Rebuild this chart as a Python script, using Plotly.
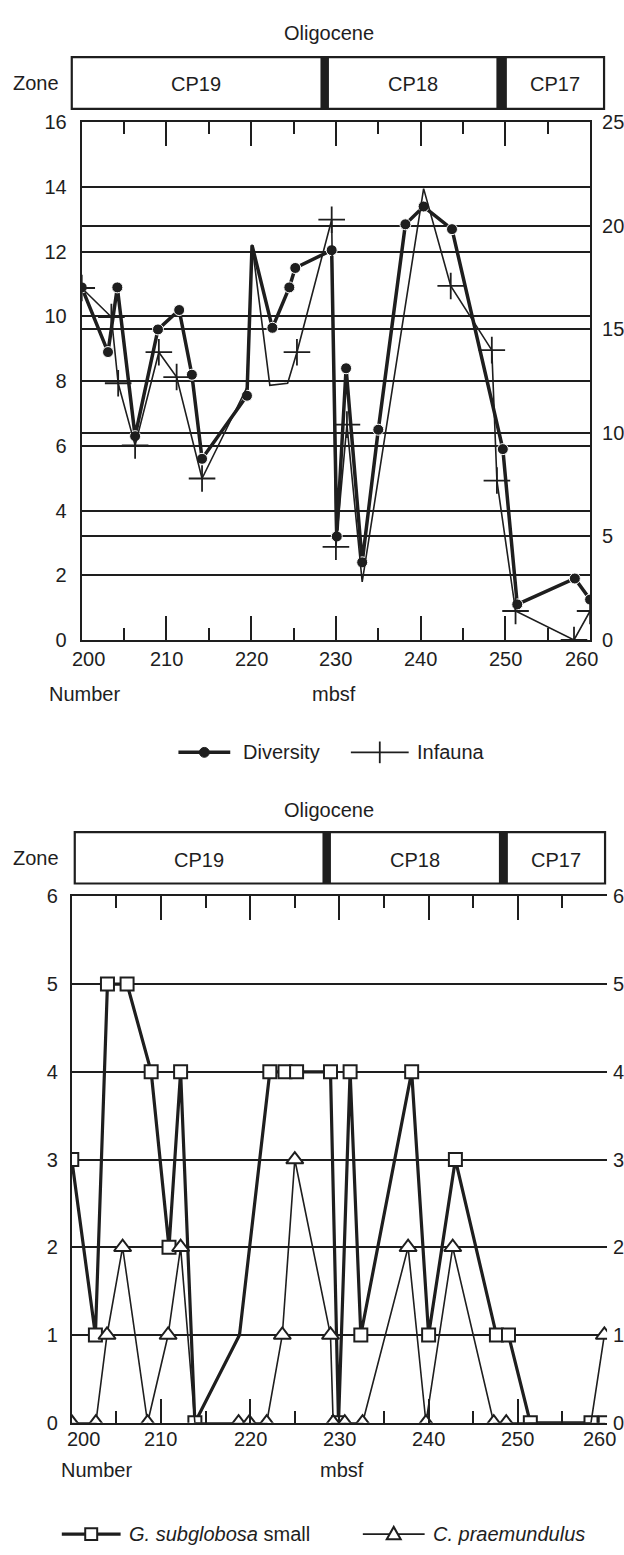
import plotly.graph_objects as go

W, H = 624, 1555
INK = "#1e1e1e"
FONT = "Liberation Sans, Arial, Helvetica, sans-serif"

# ---------------- data ----------------
# Upper panel: Diversity (left axis, number) and Infauna (right axis)
div_depth = [200.0, 203.1, 204.2, 206.3, 209.0, 211.5, 213.0, 214.2, 219.5, 220.1,
             222.5, 224.5, 225.2, 229.5, 230.1, 231.2, 233.1, 235.0, 238.2, 240.35,
             243.7, 249.7, 251.4, 258.2, 260.0]
diversity = [10.9, 8.9, 10.9, 6.3, 9.6, 10.2, 8.2, 5.6, 7.55, 12.2,
             9.65, 10.9, 11.5, 12.05, 3.2, 8.4, 2.4, 6.5, 12.85, 13.4,
             12.7, 5.9, 1.1, 1.9, 1.25]
div_unmarked = [220.1]

inf_depth = [200.0, 203.5, 204.3, 206.3, 209.1, 211.2, 214.2, 219.5, 220.1, 222.2,
             224.3, 225.4, 229.5, 230.0, 231.3, 233.1, 240.35, 243.55, 248.4, 249.0,
             251.2, 258.1, 260.0]
infauna = [17.0, 15.6, 12.4, 9.4, 13.9, 12.7, 7.8, 12.2, 19.1, 12.3,
           12.4, 13.9, 20.3, 4.5, 10.4, 2.8, 21.8, 17.1, 14.0, 7.7,
           1.4, 0.0, 1.4]
inf_unmarked = [219.5, 220.1, 222.2, 224.3, 233.1, 240.35]

# Lower panel: G. subglobosa small and C. praemundulus (number)
gs_depth = [200.0, 202.65, 204.0, 206.2, 208.9, 210.9, 212.2, 213.8, 218.8, 222.2,
            223.9, 225.2, 229.0, 229.9, 231.2, 232.4, 238.1, 240.0, 243.0, 247.6,
            248.95, 251.4, 258.2, 259.8]
gs_small = [3, 1, 5, 5, 4, 2, 4, 0, 1, 4,
            4, 4, 4, 0, 4, 1, 4, 1, 3, 1,
            1, 0, 0, 0]
gs_unmarked = [218.8]

cp_depth = [200.0, 202.7, 203.95, 205.7, 208.5, 210.8, 212.2, 213.8, 218.7, 219.9,
            221.85, 223.6, 225.0, 229.0, 229.3, 230.6, 232.6, 237.7, 239.7, 242.7,
            247.3, 248.7, 258.2, 259.7]
cp_praem = [0, 0, 1, 2, 0, 1, 2, 0, 0, 0,
            0, 1, 3, 1, 0, 0, 0, 2, 0, 2,
            0, 0, 0, 1]
cp_unmarked = [213.8, 258.2]

x_ticks = [200, 210, 220, 230, 240, 250, 260]
low_y_ticks = [0, 1, 2, 3, 4, 5, 6]
zones = ["CP19", "CP18", "CP17"]
epoch = "Oligocene"

# ---------------- helpers ----------------
def px(x):
    return x / W


def py(y):
    return 1 - y / H


def sizes(depths, hidden, s):
    return [0 if d in hidden else s for d in depths]


tickfont = dict(family=FONT, size=20, color=INK)

fig = go.Figure()

# Upper panel traces
fig.add_trace(go.Scatter(
    x=div_depth, y=diversity, mode="lines+markers", xaxis="x", yaxis="y",
    line=dict(color=INK, width=3.5),
    marker=dict(symbol="circle", color=INK, opacity=1,
                size=sizes(div_depth, div_unmarked, 11)),
    showlegend=False, hoverinfo="skip"))
fig.add_trace(go.Scatter(
    x=inf_depth, y=infauna, mode="lines+markers", xaxis="x", yaxis="y2",
    line=dict(color=INK, width=1.6),
    marker=dict(symbol="cross-thin", color=INK, opacity=1,
                size=sizes(inf_depth, inf_unmarked, 19),
                line=dict(color=INK, width=1.8)),
    showlegend=False, hoverinfo="skip"))

# Lower panel traces
fig.add_trace(go.Scatter(
    x=gs_depth, y=gs_small, mode="lines+markers", xaxis="x2", yaxis="y3",
    line=dict(color=INK, width=3.2),
    marker=dict(symbol="square", color="white", opacity=1,
                size=sizes(gs_depth, gs_unmarked, 13),
                line=dict(color=INK, width=2)),
    showlegend=False, hoverinfo="skip"))
fig.add_trace(go.Scatter(
    x=cp_depth, y=cp_praem, mode="lines+markers", xaxis="x2", yaxis="y3",
    line=dict(color=INK, width=1.6),
    marker=dict(symbol="triangle-up", color="white", opacity=1,
                size=sizes(cp_depth, cp_unmarked, 15),
                line=dict(color=INK, width=2)),
    showlegend=False, hoverinfo="skip"))

# ---------------- axes ----------------
def xax(dom, anchor):
    return dict(domain=dom, anchor=anchor, range=[200, 260], tickmode="linear", tick0=200,
                dtick=10, ticks="inside", ticklen=24, tickwidth=2, tickcolor=INK,
                showticklabels=False, showgrid=False, zeroline=False,
                showline=True, linecolor=INK, linewidth=2, mirror="ticks",
                minor=dict(ticks="inside", tick0=200, dtick=5, ticklen=12, tickwidth=2,
                           tickcolor=INK, showgrid=False))


def yax(dom, anchor, rng, dt, side="left", overlay=None, grid=True, standoff=8, labels=True):
    d = dict(domain=dom, anchor=anchor, range=rng, tickmode="linear", tick0=0, dtick=dt,
             side=side, showgrid=grid, gridcolor=INK, gridwidth=2, zeroline=False,
             ticks="", showline=True, linecolor=INK, linewidth=2, tickfont=tickfont,
             ticklabelstandoff=standoff, showticklabels=labels)
    if overlay:
        d["overlaying"] = overlay
    return d


top_dom_x = [px(82), px(592)]
top_dom_y = [py(638), py(113)]
low_dom_x = [px(72), px(609)]
low_dom_y = [py(1432), py(898)]

fig.update_layout(
    width=W, height=H, margin=dict(l=0, r=0, t=0, b=0),
    paper_bgcolor="white", plot_bgcolor="white", showlegend=False,
    xaxis=xax(top_dom_x, "y"),
    yaxis=yax(top_dom_y, "x", [0, 16], 2, standoff=9),
    yaxis2=yax(top_dom_y, "x", [0, 25], 5, side="right", overlay="y", standoff=6),
    xaxis2=xax(low_dom_x, "y3"),
    yaxis3=yax(low_dom_y, "x2", [0, 6], 1, standoff=8),
    yaxis4=yax(low_dom_y, "x2", [0, 6], 1, side="right", overlay="y3", grid=False,
               labels=False),
)

shapes = []
annotations = []


def text(x, y, s, size=20, xanchor="center"):
    annotations.append(dict(x=px(x), y=py(y), xref="paper", yref="paper", text=s,
                            showarrow=False, xanchor=xanchor, yanchor="middle",
                            font=dict(family=FONT, size=size, color=INK)))


# x tick labels (annotations so the end labels can be nudged inward like the original)
for xref, ylab, shifts in (("x", 657, {200: 7, 260: -9}), ("x2", 1448, {200: 12, 260: -8})):
    for t in x_ticks:
        annotations.append(dict(x=t, y=py(ylab), xref=xref, yref="paper", text=str(t),
                                showarrow=False, xanchor="center", yanchor="middle",
                                xshift=shifts.get(t, 0), font=tickfont))

# right-hand labels of the lower panel (right at the page edge, as in the original)
for v in low_y_ticks:
    annotations.append(dict(x=px(613), y=v, xref="paper", yref="y3", text=str(v),
                            showarrow=False, xanchor="left", yanchor="middle",
                            font=tickfont))


def zone_bar(x0, x1, y0, y1, divs, label_y, title_y):
    shapes.append(dict(type="rect", xref="paper", yref="paper", x0=px(x0), x1=px(x1),
                       y0=py(y1), y1=py(y0), line=dict(color=INK, width=2.2),
                       fillcolor="white", layer="below"))
    edges = [x0]
    for a, b in divs:
        shapes.append(dict(type="rect", xref="paper", yref="paper", x0=px(a), x1=px(b),
                           y0=py(y1), y1=py(y0), line=dict(color=INK, width=0),
                           fillcolor=INK))
        edges += [a, b]
    edges.append(x1)
    for i, z in enumerate(zones):
        cx = (edges[2 * i] + edges[2 * i + 1]) / 2
        text(cx, label_y, z)
    text(36, (y0 + y1) / 2, "Zone")
    text(330, title_y, epoch)


zone_bar(72, 606, 46.7, 99.3, [(321.5, 330), (498, 508.5)], 74, 22)
zone_bar(75, 607, 833, 885, [(323.5, 332), (500.5, 509.5)], 861, 810)

# axis titles
text(85, 693, "Number")
text(335, 693, "mbsf")
text(97, 1480, "Number")
text(343, 1480, "mbsf")


# legends (drawn symbols)
def hline(x0, x1, y, w):
    shapes.append(dict(type="line", xref="paper", yref="paper", x0=px(x0), x1=px(x1),
                       y0=py(y), y1=py(y), line=dict(color=INK, width=w)))


def vline(x, y0, y1, w):
    shapes.append(dict(type="line", xref="paper", yref="paper", x0=px(x), x1=px(x),
                       y0=py(y0), y1=py(y1), line=dict(color=INK, width=w)))


ly1 = 752
hline(179, 231, ly1, 3.5)
shapes.append(dict(type="circle", xref="paper", yref="paper", x0=px(200), x1=px(210),
                   y0=py(ly1 + 5), y1=py(ly1 - 5), fillcolor=INK, line=dict(color=INK, width=1)))
text(242, ly1, "Diversity", xanchor="left")
hline(352, 410, ly1, 1.6)
vline(381, ly1 - 11, ly1 + 11, 1.8)
text(416, ly1, "Infauna", xanchor="left")

ly2 = 1545
hline(62, 121, ly2, 3.2)
shapes.append(dict(type="rect", xref="paper", yref="paper", x0=px(85.5), x1=px(97.5),
                   y0=py(ly2 + 6), y1=py(ly2 - 6), fillcolor="white", line=dict(color=INK, width=2)))
text(127, ly2, "<i>G. subglobosa</i> small", xanchor="left")
hline(364, 426, ly2, 1.6)
tx, ts = 395, 7
path = "M {} {} L {} {} L {} {} Z".format(px(tx - ts), py(ly2 + ts * 0.75), px(tx + ts),
                                          py(ly2 + ts * 0.75), px(tx), py(ly2 - ts * 1.05))
shapes.append(dict(type="path", xref="paper", yref="paper", path=path, fillcolor="white",
                   line=dict(color=INK, width=2)))
text(432, ly2, "<i>C. praemundulus</i>", xanchor="left")

fig.update_layout(shapes=shapes, annotations=annotations)

fig.write_html("out.html")
